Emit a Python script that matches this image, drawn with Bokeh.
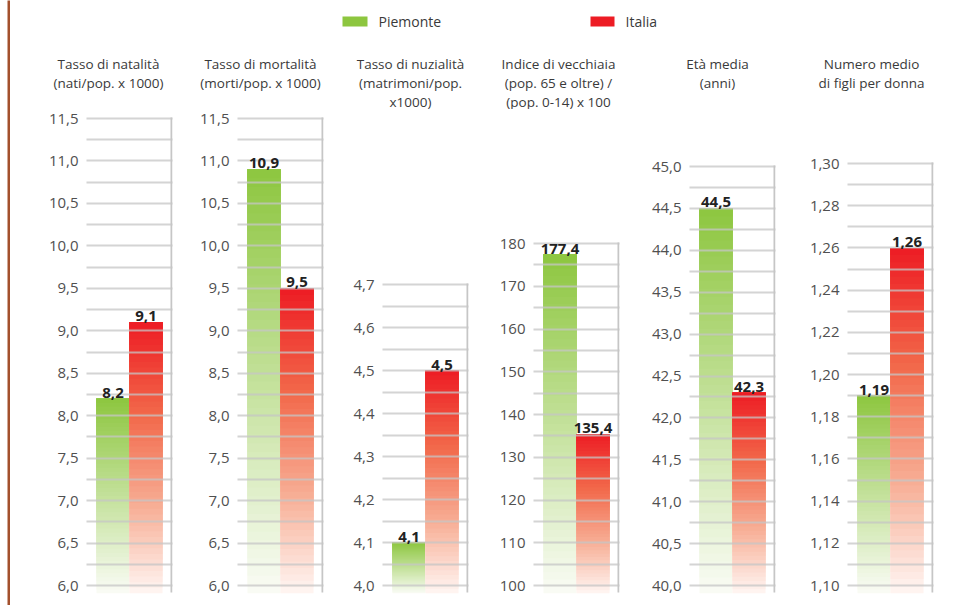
from bokeh.plotting import figure
from bokeh.models import Range1d, FactorRange, FixedTicker, CustomJSTickFormatter, ColumnDataSource, LinearScale
from bokeh.transform import dodge
from bokeh.layouts import row, column
from bokeh.embed import file_html
from bokeh.resources import INLINE
from bokeh.core.properties import value
import numpy as np

# ---------------- data ----------------
series = ["Piemonte", "Italia"]
titles = [
    ["Tasso di natalità", "(nati/pop. x 1000)"],
    ["Tasso di mortalità", "(morti/pop. x 1000)"],
    ["Tasso di nuzialità", "(matrimoni/pop.", "x1000)"],
    ["Indice di vecchiaia", "(pop. 65 e oltre) /", "(pop. 0-14) x 100"],
    ["Età media", "(anni)"],
    ["Numero medio", "di figli per donna"],
]
piemonte = [8.2, 10.9, 4.1, 177.4, 44.5, 1.19]
italia = [9.1, 9.5, 4.5, 135.4, 42.3, 1.26]
label_decimals = [1, 1, 1, 1, 1, 2]
axis_min = [6.0, 6.0, 4.0, 100, 40.0, 1.10]
axis_max = [11.5, 11.5, 4.7, 180, 45.0, 1.30]
major_step = [0.5, 0.5, 0.1, 10, 0.5, 0.02]
tick_decimals = [1, 1, 1, 0, 1, 2]

# ---------------- layout / style ----------------
FONT = "Open Sans"
GREEN = "#8dc63f"
RED = "#ed1c24"
BORDER = "#a3502d"
GRID = "#c6c6c6"
green_stops = [(0.0, (250, 252, 246)), (1.0, (141, 198, 63))]
red_stops = [(0.0, (255, 246, 243)), (0.33, (247, 172, 147)), (0.66, (242, 104, 74)), (1.0, (237, 28, 36))]

FRAME_LEFT = [86, 237, 382, 533, 689, 847]
FIG_LEFT = [10, 182, 327, 478, 634, 792]
FIG_END = 972
FRAME_W = 86
PAD = 0.303
TOP_PX = [118, 118, 284, 243, 166, 163]
BASE_PX = 585
STRIP_H = 109
FRAME_BOTTOM = 593
TOTAL_H = 605
TITLE_CX = [108, 260, 410, 558, 717, 871]
TITLE_Y = [63, 82, 101]
N_SLICES = 48


def interp(stops, t):
    for (t0, c0), (t1, c1) in zip(stops[:-1], stops[1:]):
        if t <= t1:
            f = (t - t0) / (t1 - t0)
            c = [int(round(a + (b - a) * f)) for a, b in zip(c0, c1)]
            return "#%02x%02x%02x" % tuple(c)
    return "#%02x%02x%02x" % stops[-1][1]


def fmt(v, d):
    return f"{v:.{d}f}".replace(".", ",")


panels = []
for i in range(6):
    lo, hi = axis_min[i], axis_max[i]
    s = (BASE_PX - TOP_PX[i]) / (hi - lo)
    y0 = lo - (FRAME_BOTTOM - BASE_PX) / s
    y1 = hi + (TOP_PX[i] - STRIP_H) / s
    right = FIG_LEFT[i + 1] if i < 5 else FIG_END
    fig_w = right - FIG_LEFT[i]
    mbl = FRAME_LEFT[i] - FIG_LEFT[i]
    mbr = fig_w - mbl - FRAME_W

    xr = FactorRange(factors=series, range_padding=PAD, range_padding_units="absolute")
    p = figure(width=fig_w, height=TOTAL_H - STRIP_H, x_range=xr,
               y_range=Range1d(y0, y1), x_axis_location=None,
               toolbar_location=None, output_backend="svg",
               min_border_left=mbl, min_border_right=mbr, min_border_top=0,
               min_border_bottom=TOTAL_H - FRAME_BOTTOM,
               outline_line_color=None, background_fill_color="white", border_fill_color="white")
    p.extra_y_ranges = {"px": Range1d(FRAME_BOTTOM, STRIP_H)}
    p.extra_y_scales = {"px": LinearScale()}

    # gradient bars built from the values
    xs, bots, tops, cols = [], [], [], []
    for name, v, stops in ((series[0], piemonte[i], green_stops), (series[1], italia[i], red_stops)):
        for k in range(N_SLICES):
            xs.append(name)
            bots.append(y0 + (v - y0) * k / N_SLICES)
            tops.append(v)
            cols.append(interp(stops, (k + 0.5) / N_SLICES))
    src = ColumnDataSource(dict(x=xs, bottom=bots, top=tops, color=cols))
    p.vbar(x="x", bottom="bottom", top="top", width=1.0, fill_color="color", line_color=None, source=src)

    # grid (over the bars)
    minor = [round(float(t), 4) for t in np.arange(lo, hi + major_step[i] / 4, major_step[i] / 2)]
    majors = [round(float(t), 4) for t in np.arange(lo, hi + major_step[i] / 4, major_step[i])]
    p.xgrid.visible = False
    p.ygrid.ticker = FixedTicker(ticks=minor)
    p.ygrid.grid_line_color = GRID
    p.ygrid.grid_line_width = 2
    p.ygrid.grid_line_alpha = 0.75
    p.ygrid.level = "guide"

    # y axis
    ax = p.yaxis[0]
    ax.ticker = FixedTicker(ticks=majors)
    ax.formatter = CustomJSTickFormatter(code=f"return tick.toFixed({tick_decimals[i]}).replace('.', ',');")
    ax.axis_line_color = None
    ax.major_tick_line_color = None
    ax.minor_tick_line_color = None
    ax.major_tick_out = 0
    ax.major_tick_in = 0
    ax.major_label_standoff = 8
    ax.major_label_text_font = FONT
    ax.major_label_text_font_size = "15px"
    ax.major_label_text_color = "#505050"

    # right frame line (at the right edge of the category range)
    edge = ColumnDataSource(dict(x=[series[-1]], y0=[TOP_PX[i] - 1], y1=[FRAME_BOTTOM - 1]))
    off = 0.5 + PAD - 1.0 / (FRAME_W / (2 + 2 * PAD))
    p.segment(x0=dodge("x", off, range=xr), x1=dodge("x", off, range=xr), y0="y0", y1="y1",
              source=edge, y_range_name="px", line_color=GRID, line_width=2)

    # value labels
    vals = [piemonte[i], italia[i]]
    p.text(x=series, y=vals, text=[fmt(v, label_decimals[i]) for v in vals],
           text_align="center", text_baseline="bottom", y_offset=-1,
           text_font=value(FONT), text_font_style="bold", text_font_size="15px",
           text_color="#222222", level="annotation")
    panels.append(p)

# top strip: legend and panel titles
top = figure(width=FIG_END - FIG_LEFT[0], height=STRIP_H,
             x_range=Range1d(FIG_LEFT[0], FIG_END), y_range=Range1d(STRIP_H, 0),
             x_axis_location=None, y_axis_location=None, toolbar_location=None,
             output_backend="svg", min_border=0, outline_line_color=None)
top.grid.visible = False
top.quad(left=[342, 590], right=[367, 614], top=[16, 16], bottom=[26, 26],
         fill_color=[GREEN, RED], line_color=None)
top.text(x=[378, 625], y=[21, 21], text=series, text_align="left", text_baseline="middle",
         text_font=value(FONT), text_font_size="14px", text_color="#3a3a3a")
tx, ty, tt = [], [], []
for i in range(6):
    for j, line in enumerate(titles[i]):
        tx.append(TITLE_CX[i]); ty.append(TITLE_Y[j]); tt.append(line)
top.text(x=tx, y=ty, text=tt, text_align="center", text_baseline="middle",
         text_font=value(FONT), text_font_size="13.5px", text_color="#3a3a3a")

# left brown border
bord = figure(width=FIG_LEFT[0], height=TOTAL_H, x_range=Range1d(0, 1), y_range=Range1d(0, 1),
              x_axis_location=None, y_axis_location=None, toolbar_location=None,
              output_backend="svg", min_border=0, min_border_left=7, outline_line_color=None,
              background_fill_color=BORDER, border_fill_color="white")
bord.grid.visible = False

layout = row(bord, column(top, row(*panels)))
open("out.html", "w").write(file_html(layout, INLINE))
